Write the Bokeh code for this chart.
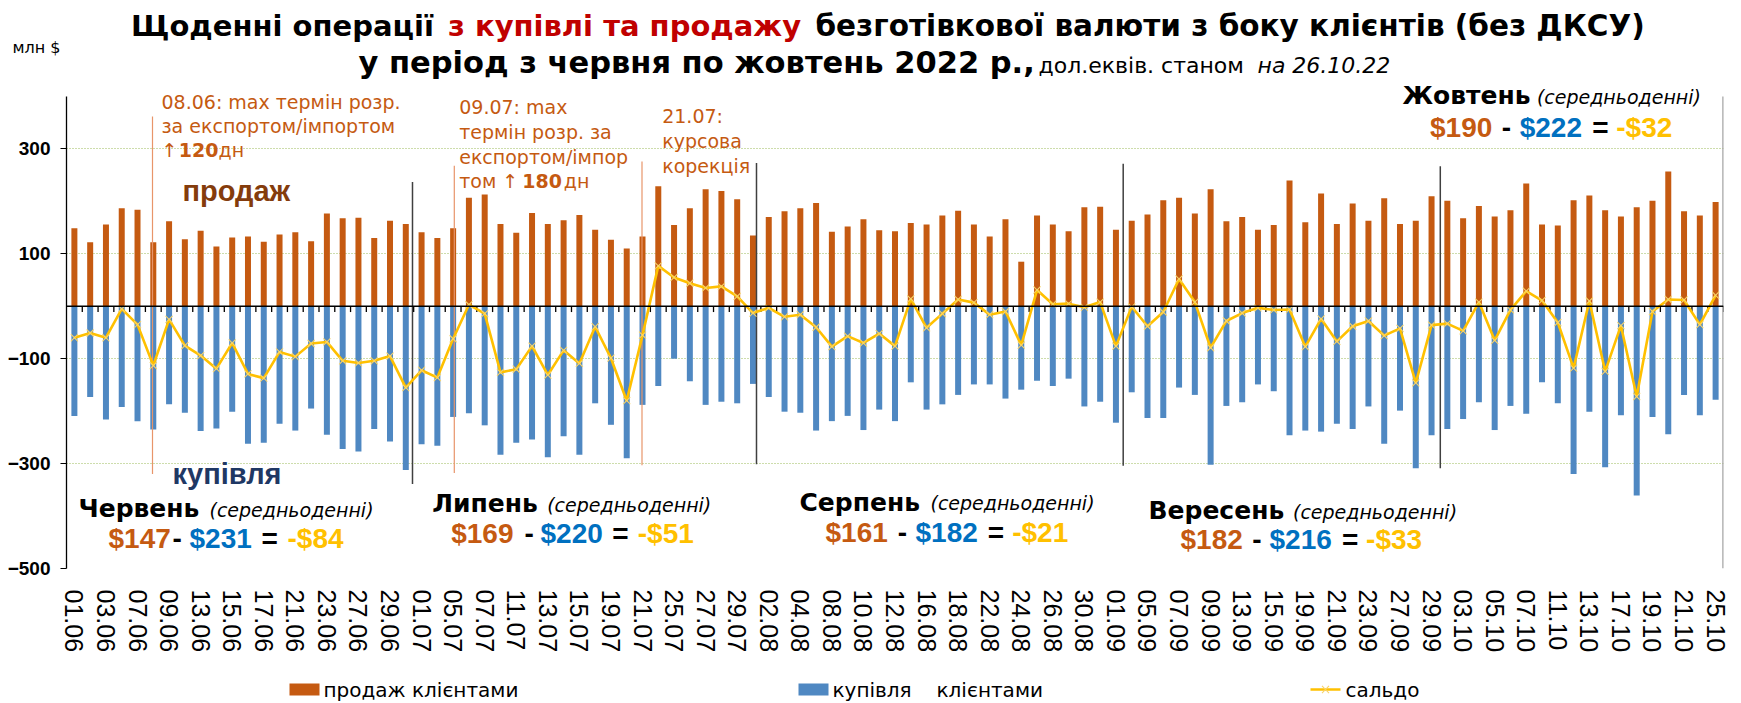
from bokeh.plotting import figure
from bokeh.layouts import column
from bokeh.models import Range1d, FixedTicker, Span, Label, ColumnDataSource
from bokeh.embed import file_html
from bokeh.resources import INLINE

# ---------------- data ----------------
dates = ["01.06","02.06","03.06","06.06","07.06","08.06","09.06","10.06","13.06","14.06","15.06","16.06","17.06",
         "20.06","21.06","22.06","23.06","24.06","27.06","28.06","29.06","30.06",
         "01.07","04.07","05.07","06.07","07.07","08.07","11.07","12.07","13.07","14.07","15.07","18.07","19.07",
         "20.07","21.07","22.07","25.07","26.07","27.07","28.07","29.07",
         "01.08","02.08","03.08","04.08","05.08","08.08","09.08","10.08","11.08","12.08","15.08","16.08","17.08",
         "18.08","19.08","22.08","23.08","24.08","25.08","26.08","29.08","30.08","31.08",
         "01.09","02.09","05.09","06.09","07.09","08.09","09.09","12.09","13.09","14.09","15.09","16.09","19.09",
         "20.09","21.09","22.09","23.09","26.09","27.09","28.09","29.09","30.09",
         "03.10","04.10","05.10","06.10","07.10","10.10","11.10","12.10","13.10","14.10","17.10","18.10","19.10",
         "20.10","21.10","24.10","25.10"]

sale = [149,122,156,187,184,122,162,128,144,114,131,133,123,137,141,124,177,168,169,130,163,157,
        141,130,149,207,213,157,140,178,157,164,174,146,127,110,133,229,155,187,223,220,204,
        135,170,181,187,197,142,152,166,145,143,159,156,173,182,156,133,166,85,173,156,143,189,190,
        146,163,175,202,207,177,223,162,170,146,155,240,160,215,157,196,163,206,157,163,210,201,
        168,191,171,183,234,156,154,202,211,183,171,189,201,257,181,173,199]

buy = [209,173,216,192,219,235,187,203,238,233,201,262,260,224,237,195,245,272,277,234,258,312,
       263,266,211,204,227,283,260,254,288,248,283,185,226,290,188,152,100,143,188,182,185,
       148,173,201,203,237,219,209,236,197,219,145,197,187,169,149,149,176,159,142,152,138,191,182,
       222,164,213,213,155,169,302,190,183,149,162,246,237,239,224,234,191,262,199,309,246,234,
       215,183,236,190,205,145,185,320,201,307,208,361,211,244,169,208,178]

saldo = [-60,-51,-60,-5,-35,-113,-25,-75,-94,-119,-70,-129,-137,-87,-96,-71,-68,-104,-108,-104,-95,-155,
         -122,-136,-62,3,-14,-126,-120,-76,-131,-84,-109,-39,-99,-180,-55,77,55,44,35,38,19,
         -13,-3,-20,-16,-40,-77,-57,-70,-52,-76,14,-41,-14,13,7,-16,-10,-74,31,4,5,-2,8,
         -76,-1,-38,-11,52,8,-79,-28,-13,-3,-7,-6,-77,-24,-67,-38,-28,-56,-42,-146,-36,-33,
         -47,8,-65,-7,29,11,-31,-118,10,-124,-37,-172,-10,13,12,-35,21]

y_ticks = [-500, -300, -100, 100, 300]

months = [("Червень", "$147", "$231", "-$84"),
          ("Липень", "$169", "$220", "-$51"),
          ("Серпень", "$161", "$182", "-$21"),
          ("Вересень", "$182", "$216", "-$33"),
          ("Жовтень", "$190", "$222", "-$32")]

# legend entries: each as (word pieces) so that the wide gaps of the original are kept
legend_labels = [["продаж клієнтами"], ["купівля", "клієнтами"], ["сальдо"]]
unit_label = "млн $"

# ---------------- style ----------------
ORANGE = "#C55A11"
BLUE = "#4F88C2"
GOLD = "#FFC000"
MARK = "#F7D36B"
NUM_BLUE = "#0070C0"
WIDE = "DejaVu Sans"
ARIAL = "Liberation Sans"
W = 1741
FL, FR = 66, 1723            # frame left/right on the page (all strips share it)
TOP_H, FRAME_BOTTOM, LEG_TOP, PAGE_H = 80, 568, 665, 703

n = len(dates)

# ---------------- title strip ----------------
t = figure(width=W, height=TOP_H, x_range=Range1d(FL, FR), y_range=Range1d(TOP_H, 0),
           x_axis_type=None, title=None, output_backend="svg",
           toolbar_location=None, min_border=0, min_border_left=FL, min_border_right=W - FR)
t.outline_line_color = None
t.xgrid.visible = False
t.ygrid.visible = False
ta = t.yaxis[0]
ta.ticker = FixedTicker(ticks=[47])
ta.major_label_overrides = {47: unit_label}
ta.axis_line_color = None
ta.major_tick_line_color = None
ta.minor_tick_line_color = None
ta.major_label_standoff = 0
ta.major_label_text_font = WIDE
ta.major_label_text_font_size = "16px"
ta.major_label_text_color = "black"


def lab(fig, text, x, y, color="black", font=WIDE, size=19, style="normal"):
    fig.add_layout(Label(x=x, y=y, text=text, text_color=color, text_font=font,
                         text_font_size=f"{size}px", text_font_style=style, text_baseline="middle",
                         text_align="left"))


lab(t, "Щоденні операції", 130.5, 25, size=29, style="bold")
lab(t, "з купівлі та продажу", 447.5, 25, color="#C00000", size=29, style="bold")
lab(t, "безготівкової валюти з боку клієнтів (без ДКСУ)", 815, 25, size=29.5, style="bold")
lab(t, "у період з червня по жовтень 2022 р.,", 358, 61.5, size=30.5, style="bold")
lab(t, "дол.еквів.  станом", 1038, 64.5, size=22)
lab(t, "на 26.10.22", 1257, 64.5, size=22, style="italic")

# ---------------- main chart ----------------
Y_TOP = 400 + (96 - TOP_H) / 0.5244
p = figure(width=W, height=LEG_TOP - TOP_H, x_range=Range1d(-0.5, n - 0.5),
           y_range=Range1d(-500, Y_TOP), title=None,
           output_backend="svg", toolbar_location=None,
           min_border_left=FL, min_border_right=W - FR, min_border_top=0,
           min_border_bottom=LEG_TOP - FRAME_BOTTOM)
p.outline_line_color = None


def px(x):
    return (x - FL) / 15.781 - 0.5


def py(y):
    return 400 - (y - 96) / 0.5244


src = ColumnDataSource(dict(x=list(range(n)), sale=sale, buy=[-b for b in buy], saldo=saldo))

p.xgrid.grid_line_color = None
p.ygrid.ticker = FixedTicker(ticks=y_ticks)
p.ygrid.grid_line_color = "#9BBB59"
p.ygrid.grid_line_dash = "1 2"
p.ygrid.grid_line_width = 1

p.vbar(x="x", top="sale", bottom=0, width=0.38, source=src, fill_color=ORANGE, line_color=None)
p.vbar(x="x", top=0, bottom="buy", width=0.38, source=src, fill_color=BLUE, line_color=None)

ann_x = [px(152), px(453.8), px(641.5)]
ann_top = [362, 268, 276]
ann_bot = [-320, -318, -303]
p.segment(x0=ann_x, x1=ann_x, y0=ann_top, y1=ann_bot, line_color="#E8956A", line_width=1.2)

sep_x = [px(412), px(756), px(1122.7), px(1439.8)]
sep_top = [237, 273, 272, 267]
sep_bot = [-339, -301, -304, -309]
p.segment(x0=sep_x, x1=sep_x, y0=sep_top, y1=sep_bot, line_color="#404040", line_width=1.5)

p.add_layout(Span(location=0, dimension="width", line_color="black", line_width=1.5))
tx = [i + 0.5 for i in range(n)]
p.segment(x0=tx, x1=tx, y0=[0] * n, y1=[-11] * n, line_color="black", line_width=1.3)

p.line("x", "saldo", source=src, line_color=GOLD, line_width=2.6)
p.scatter("x", "saldo", source=src, marker="x", size=10, line_color=MARK, line_width=1.1)

p.segment(x0=[n - 0.5], x1=[n - 0.5], y0=[-500], y1=[400], line_color="#A6A6A6", line_width=2.5)

xa = p.xaxis[0]
xa.ticker = FixedTicker(ticks=list(range(0, n, 2)))
xa.major_label_overrides = {i: dates[i] for i in range(0, n, 2)}
xa.major_label_orientation = "vertical"
xa.axis_line_color = None
xa.major_tick_line_color = None
xa.minor_tick_line_color = None
xa.major_label_text_font = ARIAL
xa.major_label_text_font_size = "25px"
xa.major_label_text_color = "black"
xa.major_label_standoff = 15

ya = p.yaxis[0]
ya.ticker = FixedTicker(ticks=y_ticks)
ya.bounds = (-500, 400)
ya.axis_line_color = "black"
ya.axis_line_width = 1.3
ya.major_tick_line_color = "black"
ya.major_tick_out = 6
ya.major_tick_in = 0
ya.minor_tick_line_color = None
ya.major_label_text_font = ARIAL
ya.major_label_text_font_style = "bold"
ya.major_label_text_font_size = "19px"
ya.major_label_text_color = "black"
ya.major_label_standoff = 10


def mlab(text, x, y, **kw):
    lab(p, text, px(x), py(y), **kw)


mlab("08.06: max термін розр.", 161, 101.7, color=ORANGE)
mlab("за експортом/імпортом", 161, 125, color=ORANGE)
mlab("↑", 161, 149, color=ORANGE)
mlab("120", 178.3, 149, color=ORANGE, style="bold")
mlab("дн", 218, 149, color=ORANGE)

mlab("09.07: max", 458.7, 106.7, color=ORANGE)
mlab("термін розр. за", 458.7, 131.7, color=ORANGE)
mlab("експортом/імпор", 458.7, 156, color=ORANGE)
mlab("том ↑", 458.7, 180, color=ORANGE)
mlab("180", 521.7, 180, color=ORANGE, style="bold")
mlab("дн", 563.3, 180, color=ORANGE)

mlab("21.07:", 661.7, 115, color=ORANGE)
mlab("курсова", 661.7, 140, color=ORANGE)
mlab("корекція", 661.7, 165, color=ORANGE)

mlab("продаж", 182, 190, color="#843C0C", font=ARIAL, size=29, style="bold")
mlab("купівля", 172, 473, color="#1F3864", font=ARIAL, size=29, style="bold")

mpos = [  # (name_x, note_x, center1, sale_x, dash_x, buy_x, eq_x, sal_x, center2)
    (78, 209, 508, 108, 172, 189, 261, 287, 538),
    (431.7, 546.7, 503, 450.7, 524, 540, 611.7, 637.3, 532.7),
    (799, 930, 501.7, 825, 897.3, 915, 987.3, 1011.7, 531.7),
    (1148, 1292.5, 510, 1180, 1251.8, 1269, 1341.5, 1365.6, 539),
    (1401.9, 1536.4, 95, 1429.5, 1501.2, 1519.2, 1591.7, 1615.8, 126.7),
]
for (name, s, b, d), (nx, ntx, c1, sx, dx, bx, ex, dlx, c2) in zip(months, mpos):
    mlab(name, nx, c1, size=25, style="bold")
    mlab("(середньоденні)", ntx, c1 + 1, size=19, style="italic")
    mlab(s, sx, c2, color=ORANGE, font=ARIAL, size=28, style="bold")
    mlab("-", dx, c2, font=ARIAL, size=28, style="bold")
    mlab(b, bx, c2, color=NUM_BLUE, font=ARIAL, size=28, style="bold")
    mlab("=", ex, c2, font=ARIAL, size=28, style="bold")
    mlab(d, dlx, c2, color=GOLD, font=ARIAL, size=28, style="bold")

# ---------------- legend strip (page coordinates) ----------------
lf = figure(width=W, height=PAGE_H - LEG_TOP, x_range=Range1d(FL, FR), y_range=Range1d(PAGE_H, LEG_TOP),
            x_axis_type=None, y_axis_type=None, title=None, output_backend="svg",
            toolbar_location=None, min_border=0, min_border_left=FL, min_border_right=W - FR)
lf.outline_line_color = None
lf.xgrid.visible = False
lf.ygrid.visible = False

KEY_Y = 689
key_left = [289, 798, 1310]
word_x = [[323], [832, 936], [1345]]
lf.quad(left=key_left[:2], right=[k + 30 for k in key_left[:2]], top=[KEY_Y - 6] * 2,
        bottom=[KEY_Y + 6] * 2, fill_color=[ORANGE, BLUE], line_color=None)
lf.line(x=[key_left[2], key_left[2] + 30], y=[KEY_Y, KEY_Y], line_color=GOLD, line_width=2.6)
lf.scatter(x=[key_left[2] + 15], y=[KEY_Y], marker="x", size=10, line_color=MARK, line_width=1.1)
for words, xs in zip(legend_labels, word_x):
    for w, x in zip(words, xs):
        lab(lf, w, x, KEY_Y, size=20)

layout = column(t, p, lf, spacing=0)
open("out.html", "w").write(file_html(layout, INLINE))
